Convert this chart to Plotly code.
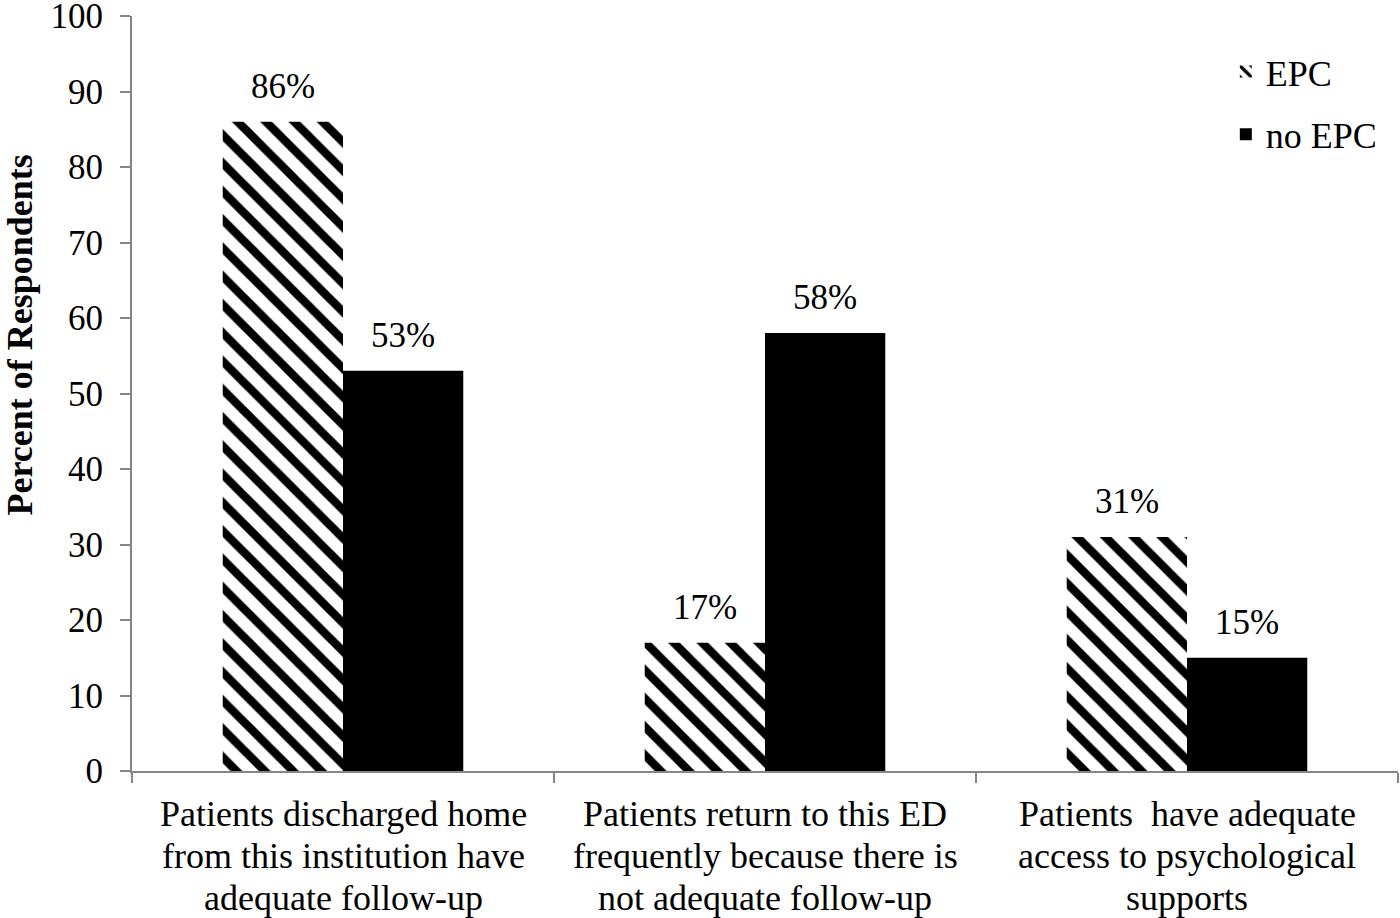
import plotly.graph_objects as go

categories = [
    "Patients discharged home<br>from this institution have<br>adequate follow-up",
    "Patients return to this ED<br>frequently because there is<br>not adequate follow-up",
    "Patients  have adequate<br>access to psychological<br>supports",
]
epc = [86, 17, 31]
no_epc = [53, 58, 15]
y_ticks = list(range(0, 101, 10))

FONT = "Liberation Serif"
FS = 35

fig = go.Figure()
fig.add_trace(go.Bar(
    name="EPC", x=categories, y=epc, legendgroup="a",
    marker=dict(color="white", line=dict(width=0),
                pattern=dict(shape="\\", fgcolor="black", fgopacity=1, bgcolor="white",
                             size=20, solidity=0.42)),
))
fig.add_trace(go.Bar(
    name="no EPC", x=categories, y=no_epc, legendgroup="b",
    marker=dict(color="black", line=dict(width=0)),
))

# value labels above bars
for vals, shift in ((epc, -60), (no_epc, 60)):
    for c, v in zip(categories, vals):
        fig.add_annotation(x=c, y=v, text=f"{v}%", showarrow=False, xshift=shift,
                           yanchor="bottom", yshift=14,
                           font=dict(family=FONT, size=FS, color="black"))

# category labels (tight line spacing as in the original)
for c in categories:
    for i, line in enumerate(c.split("<br>")):
        fig.add_annotation(x=c, y=0, text=line.replace("  ", "&nbsp; "), showarrow=False,
                           yanchor="top", yshift=-(21 + 42 * i),
                           font=dict(family=FONT, size=36, color="black"))

# y-axis title
fig.add_annotation(xref="paper", yref="paper", x=-0.0885, y=0.578,
                   text="<b>Percent of Respondents</b>", textangle=-90, showarrow=False,
                   xanchor="center", yanchor="middle",
                   font=dict(family=FONT, size=36, color="black"))

fig.update_layout(
    width=1400, height=918,
    margin=dict(l=132, r=2, t=16, b=147),
    paper_bgcolor="white", plot_bgcolor="white",
    barmode="group", bargap=0.43, bargroupgap=0,
    font=dict(family=FONT, size=FS, color="black"),
    showlegend=True,
    legend=dict(x=0.864, y=0.966, xanchor="left", yanchor="top",
                font=dict(family=FONT, size=36, color="black"),
                traceorder="grouped", tracegroupgap=13,
                itemsizing="constant", bgcolor="rgba(0,0,0,0)"),
    yaxis=dict(range=[0, 100], tickvals=y_ticks, showgrid=False, zeroline=False, automargin=False,
               showline=True, linecolor="#868686", linewidth=2,
               ticks="outside", ticklen=10, tickcolor="#868686", tickwidth=2,
               ticklabelstandoff=10, ticklabeloverflow="allow",
               tickfont=dict(family=FONT, size=FS, color="black")),
    xaxis=dict(showgrid=False, zeroline=False, showline=True, automargin=False,
               showticklabels=False,
               linecolor="#868686", linewidth=2,
               ticks="outside", tickson="boundaries", ticklen=10, tickcolor="#868686", tickwidth=2),
)

fig.write_html(
    "out.html",
    config={"responsive": False, "displayModeBar": False},
    post_script="document.body.style.margin='0';document.body.style.overflow='hidden';",
)
